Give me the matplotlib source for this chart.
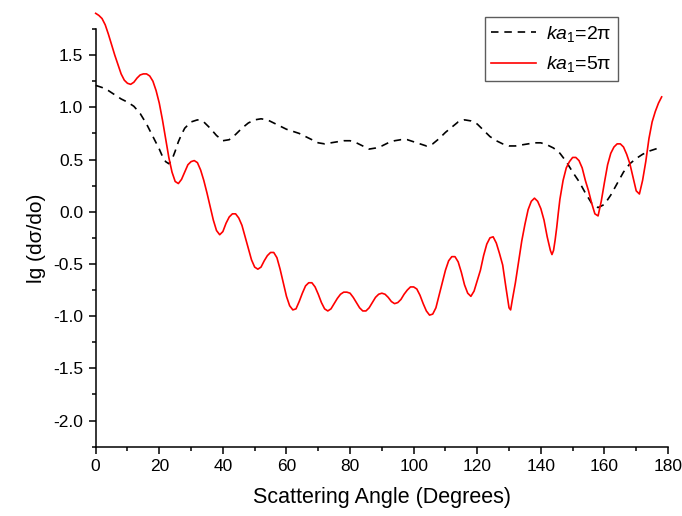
import matplotlib
matplotlib.use("Agg")
import matplotlib.pyplot as plt
from matplotlib.ticker import MultipleLocator

plt.rcParams['font.family'] = ['Liberation Sans', 'DejaVu Sans']
plt.rcParams['mathtext.fontset'] = 'custom'
plt.rcParams['mathtext.rm'] = 'Liberation Sans'
plt.rcParams['mathtext.it'] = 'Liberation Sans:italic'

# ka1 = 2*pi (dashed black)
angle_2pi = [0, 2, 4, 6, 8, 10, 12, 14, 16, 18, 20, 21, 22, 23, 24, 25, 26, 27, 28, 30,
             32, 34, 36, 38, 40, 42, 44, 46, 48, 50, 52, 54, 56, 58, 60, 62, 64, 66, 68, 70,
             72, 74, 76, 78, 80, 82, 84, 86, 88, 90, 92, 94, 96, 98, 100, 102, 104, 106, 108, 110,
             112, 114, 116, 118, 120, 122, 124, 126, 128, 130, 132, 134, 136, 138, 140, 142, 144, 146, 148, 150,
             152, 154, 156, 158, 160, 162, 164, 166, 168, 170, 172, 174, 176, 178]
lg_2pi = [1.21, 1.19, 1.16, 1.12, 1.08, 1.05, 1.01, 0.94, 0.84, 0.72, 0.60, 0.53, 0.48, 0.46, 0.50, 0.58, 0.67, 0.74, 0.80, 0.86,
          0.88, 0.86, 0.80, 0.73, 0.68, 0.69, 0.74, 0.80, 0.85, 0.88, 0.89, 0.88, 0.85, 0.82, 0.79, 0.77, 0.75, 0.72, 0.69, 0.66,
          0.65, 0.66, 0.67, 0.68, 0.68, 0.66, 0.63, 0.60, 0.61, 0.63, 0.66, 0.68, 0.69, 0.69, 0.67, 0.65, 0.63, 0.65, 0.70, 0.76,
          0.81, 0.86, 0.88, 0.87, 0.84, 0.78, 0.72, 0.68, 0.65, 0.63, 0.63, 0.64, 0.65, 0.66, 0.66, 0.64, 0.61, 0.56, 0.48, 0.38,
          0.29, 0.18, 0.08, 0.04, 0.07, 0.16, 0.27, 0.38, 0.46, 0.51, 0.55, 0.58, 0.60, 0.62]

# ka1 = 5*pi (solid red)
angle_5pi = [0, 1, 2, 3, 4, 5, 6, 7, 8, 9, 10, 11, 12, 13, 14, 15, 16, 17, 18, 19,
             20, 21, 22, 23, 24, 25, 26, 27, 28, 29, 30, 31, 32, 33, 34, 35, 36, 37, 38, 39,
             40, 41, 42, 43, 44, 45, 46, 47, 48, 49, 50, 51, 52, 53, 54, 55, 56, 57, 58, 59,
             60, 61, 62, 63, 64, 65, 66, 67, 68, 69, 70, 71, 72, 73, 74, 75, 76, 77, 78, 79,
             80, 81, 82, 83, 84, 85, 86, 87, 88, 89, 90, 91, 92, 93, 94, 95, 96, 97, 98, 99,
             100, 101, 102, 103, 104, 105, 106, 107, 108, 109, 110, 111, 112, 113, 114, 115, 116, 117, 118, 119,
             120, 121, 122, 123, 124, 125, 126, 127, 128, 129, 130, 130.5, 131, 132, 133, 134, 135, 136, 137, 138,
             139, 140, 141, 142, 143, 143.5, 144, 144.5, 145, 145.5, 146, 147, 148, 149, 150, 151, 152, 153, 154, 155,
             156, 157, 158, 159, 160, 161, 162, 163, 164, 165, 166, 167, 168, 169, 170, 171, 172, 173, 174, 175,
             176, 177, 178]
lg_5pi = [1.90, 1.88, 1.85, 1.79, 1.70, 1.60, 1.50, 1.41, 1.32, 1.26, 1.23, 1.22, 1.24, 1.28, 1.31, 1.32, 1.32, 1.30, 1.25, 1.16,
          1.04, 0.88, 0.70, 0.52, 0.38, 0.29, 0.27, 0.31, 0.38, 0.45, 0.48, 0.49, 0.47, 0.40, 0.30, 0.18, 0.05, -0.08, -0.18, -0.22,
          -0.19, -0.11, -0.05, -0.02, -0.02, -0.06, -0.13, -0.24, -0.35, -0.46, -0.53, -0.55, -0.53, -0.47, -0.42, -0.39, -0.39, -0.44, -0.55, -0.68,
          -0.81, -0.90, -0.94, -0.93, -0.86, -0.78, -0.71, -0.68, -0.68, -0.72, -0.79, -0.87, -0.93, -0.95, -0.93, -0.88, -0.83, -0.79, -0.77, -0.77,
          -0.78, -0.82, -0.87, -0.92, -0.95, -0.95, -0.92, -0.87, -0.82, -0.79, -0.78, -0.79, -0.82, -0.86, -0.88, -0.87, -0.84, -0.79, -0.75, -0.72,
          -0.72, -0.74, -0.80, -0.88, -0.95, -0.99, -0.98, -0.92, -0.80, -0.68, -0.56, -0.47, -0.43, -0.43, -0.48, -0.58, -0.70, -0.78, -0.81, -0.76,
          -0.66, -0.56, -0.42, -0.31, -0.25, -0.24, -0.30, -0.40, -0.51, -0.72, -0.92, -0.94, -0.85, -0.68, -0.48, -0.28, -0.12, 0.02, 0.10, 0.13,
          0.10, 0.03, -0.08, -0.24, -0.37, -0.41, -0.37, -0.27, -0.15, -0.01, 0.12, 0.30, 0.42, 0.48, 0.52, 0.52, 0.49, 0.42, 0.30, 0.20,
          0.08, -0.02, -0.04, 0.10, 0.28, 0.45, 0.56, 0.62, 0.65, 0.65, 0.62, 0.55, 0.46, 0.33, 0.20, 0.17, 0.30, 0.48, 0.70, 0.86,
          0.96, 1.04, 1.10]

fig = plt.figure(figsize=(6.82, 5.16), dpi=100)
ax = fig.add_axes([0.1403, 0.1343, 0.8392, 0.8095])

ax.plot(angle_2pi, lg_2pi, color='black', lw=1.2, dashes=(4.5, 3.5),
        label=r'$ka_{\mathit{1}}$=2π', clip_on=False)
ax.plot(angle_5pi, lg_5pi, color='#ff0000', lw=1.2,
        label=r'$ka_{\mathit{1}}$=5π', clip_on=False)

ax.set_xlim(0, 180)
ax.set_ylim(-2.25, 1.75)
ax.xaxis.set_major_locator(MultipleLocator(20))
ax.xaxis.set_minor_locator(MultipleLocator(10))
ax.yaxis.set_major_locator(MultipleLocator(0.5))
ax.yaxis.set_minor_locator(MultipleLocator(0.25))
ax.yaxis.set_major_formatter(plt.FuncFormatter(lambda v, p: f"{v:.1f}"))

for s in ['top', 'right']:
    ax.spines[s].set_visible(False)
for s in ['left', 'bottom']:
    ax.spines[s].set_linewidth(1.1)

ax.tick_params(which='major', direction='out', length=5, width=1.1, labelsize=12.5, pad=4)
ax.tick_params(which='minor', direction='out', length=3, width=1.1)

ax.set_xlabel('Scattering Angle (Degrees)', fontsize=15.5, labelpad=9)
ax.set_ylabel('lg (dσ/do)', fontsize=15, labelpad=5)

leg = ax.legend(loc='upper right', bbox_to_anchor=(0.913, 1.029), fontsize=14,
                frameon=True, fancybox=False, edgecolor='#333333', handlelength=2.3,
                handletextpad=0.5, borderpad=0.35, labelspacing=0.55, borderaxespad=0)
leg.get_frame().set_linewidth(1.0)

fig.savefig('out.png', dpi=100)
